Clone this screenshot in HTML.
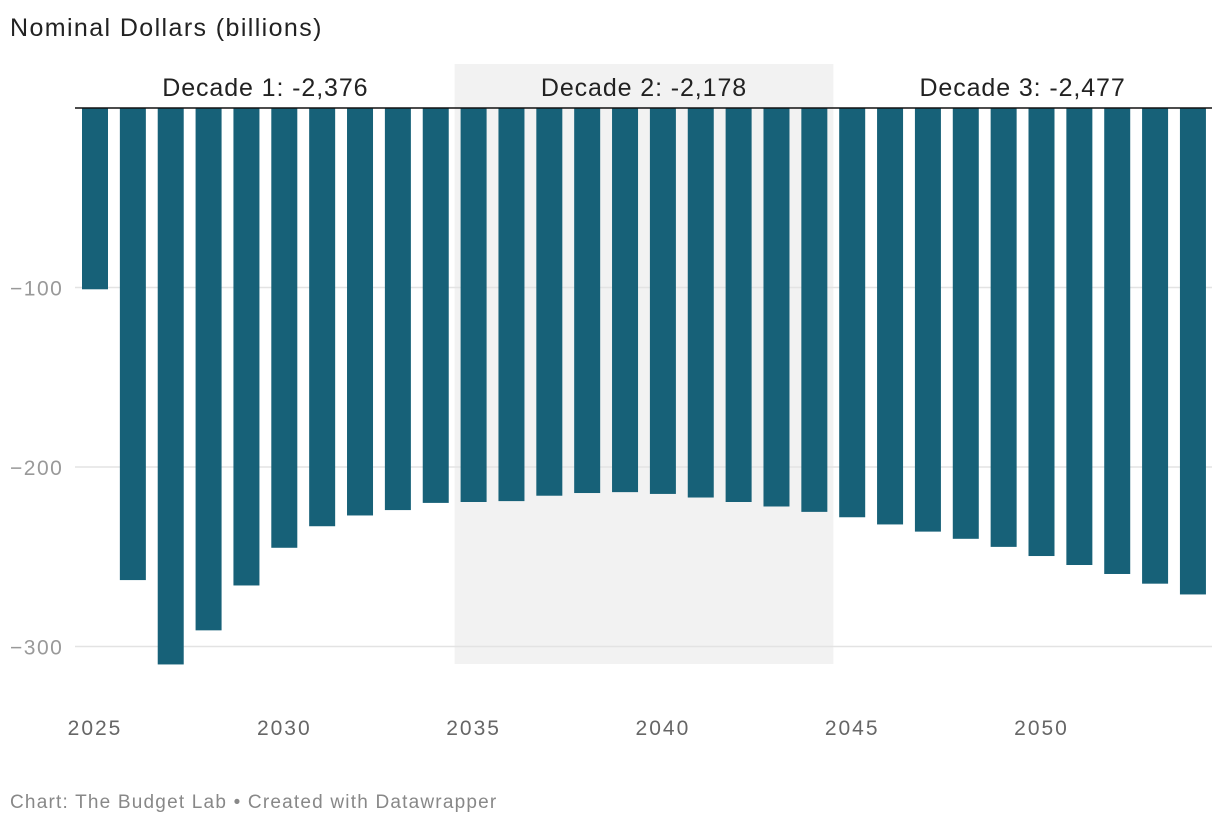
<!DOCTYPE html>
<html><head><meta charset="utf-8"><style>
body{margin:0;background:#fff;width:1220px;height:824px;overflow:hidden;font-family:"Liberation Sans",sans-serif}
</style></head><body>
<svg width="1220" height="824" id="svg" xmlns="http://www.w3.org/2000/svg">
<text x="10" y="36" font-size="25" letter-spacing="1.4" fill="#222">Nominal Dollars (billions)</text>
<text x="10" y="808" font-size="19" letter-spacing="1.2" fill="#888">Chart: The Budget Lab • Created with Datawrapper</text>
</svg>
<script>
const years=[];for(let y=2025;y<=2054;y++)years.push(y);
const values=[-101,-263,-310,-291,-266,-245,-233,-227,-224,-220,-219.5,-219,-216,-214.5,-214,-215,-217,-219.5,-222,-225,-228,-232,-236,-240,-244.5,-249.6,-254.6,-259.6,-265,-271];
const yTicks=[-100,-200,-300];
const xTicks=[2025,2030,2035,2040,2045,2050];
const decades=[{label:"Decade 1: -2,376",start:2025,end:2034},{label:"Decade 2: -2,178",start:2035,end:2044},{label:"Decade 3: -2,477",start:2045,end:2054}];
const NS="http://www.w3.org/2000/svg",svg=document.getElementById('svg');
const y=v=>108-v*1.795;
const x=yr=>95+(yr-2025)*37.86;
function mk(t,a){const e=document.createElementNS(NS,t);for(const k in a)e.setAttribute(k,a[k]);svg.appendChild(e);return e;}
const sh=mk('rect',{x:x(2035)-19,y:64,width:x(2044)-x(2035)+38,height:600,fill:'#f2f2f2'});


yTicks.forEach(t=>{
 const l=mk('line',{x1:75,x2:1212,y1:y(t),y2:y(t),stroke:'#e3e3e3','stroke-width':1.5});
 
 
 const tx=mk('text',{x:10,y:y(t)+8,'font-size':21,'letter-spacing':1.5,fill:'#999'});tx.textContent='\u2212'+Math.abs(t);
 
 
});
years.forEach((yr,i)=>{
 const r=mk('rect',{x:x(yr)-13,y:108,width:26,height:y(values[i])-108,fill:'#176178'});
 
 
});
const z=mk('line',{x1:75,x2:1212,y1:108,y2:108,stroke:'#111','stroke-width':1.5});


xTicks.forEach(t=>{
 const tx=mk('text',{x:x(t),y:735,'font-size':21,'letter-spacing':2,fill:'#666','text-anchor':'middle'});tx.textContent=t;
 
 
});
decades.forEach(d=>{
 const tx=mk('text',{x:(x(d.start)+x(d.end))/2,y:96,'font-size':25,'letter-spacing':0.9,fill:'#222','text-anchor':'middle'});tx.textContent=d.label;
 
 
});
</script>
</body></html>
